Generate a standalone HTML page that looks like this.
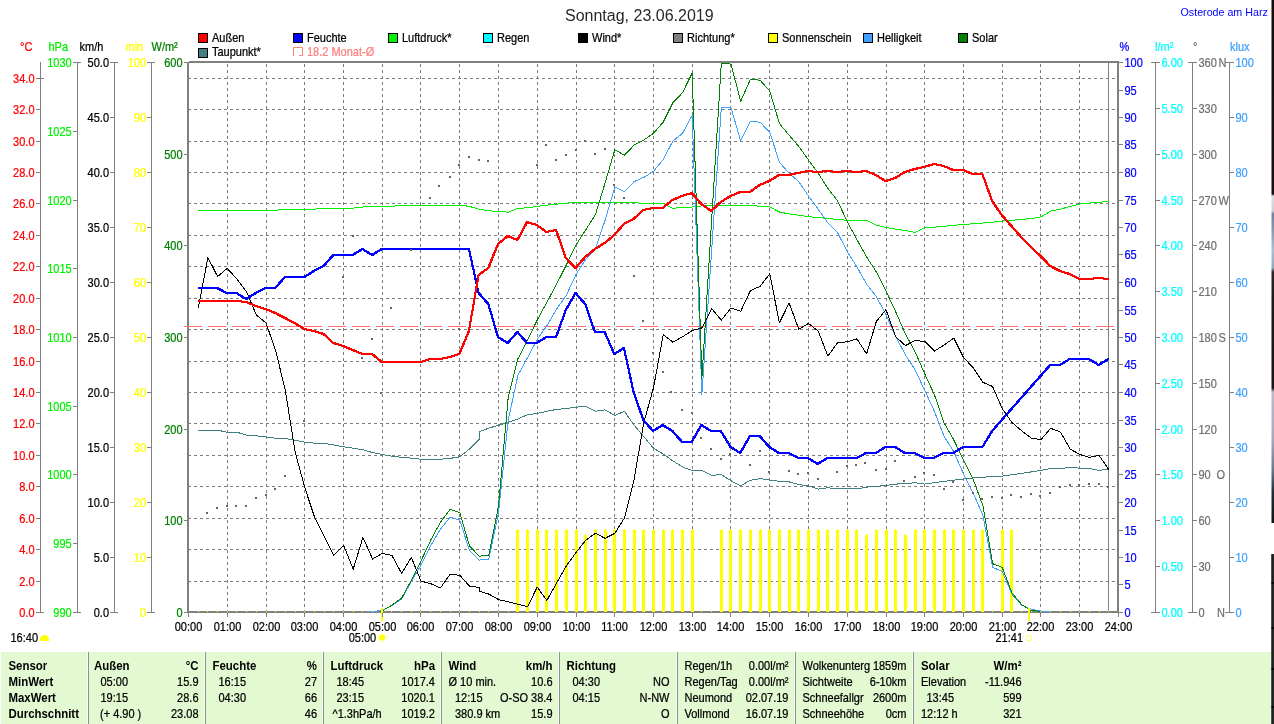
<!DOCTYPE html>
<html lang="de"><head><meta charset="utf-8"><title>Osterode am Harz - Sonntag, 23.06.2019</title>
<style>html,body{margin:0;padding:0;background:#fff;overflow:hidden}svg{display:block;font-family:"Liberation Sans", sans-serif;will-change:transform;opacity:.999}text{white-space:pre}</style></head><body>
<svg width="1274" height="724" viewBox="0 0 1274 724">
<rect x="0" y="0" width="1274" height="724" fill="#fff"/>
<text x="565" y="20.5" fill="#282828" font-size="16">Sonntag, 23.06.2019</text>
<text x="1180.5" y="16" fill="#0000ff" font-size="10.7">Osterode am Harz</text>
<rect x="198.5" y="33.5" width="9" height="9" fill="#ff0000" stroke="#000" stroke-width="1"/>
<text transform="translate(212 42) scale(0.88 1)" fill="#000" stroke="#000" stroke-width="0.25" font-size="12.5">Außen</text>
<rect x="293.5" y="33.5" width="9" height="9" fill="#0000ff" stroke="#000" stroke-width="1"/>
<text transform="translate(307 42) scale(0.88 1)" fill="#000" stroke="#000" stroke-width="0.25" font-size="12.5">Feuchte</text>
<rect x="388.5" y="33.5" width="9" height="9" fill="#00f000" stroke="#000" stroke-width="1"/>
<text transform="translate(402 42) scale(0.88 1)" fill="#000" stroke="#000" stroke-width="0.25" font-size="12.5">Luftdruck*</text>
<rect x="483.5" y="33.5" width="9" height="9" fill="#00ffff" stroke="#000" stroke-width="1"/>
<text transform="translate(497 42) scale(0.88 1)" fill="#000" stroke="#000" stroke-width="0.25" font-size="12.5">Regen</text>
<rect x="578.5" y="33.5" width="9" height="9" fill="#000000" stroke="#000" stroke-width="1"/>
<text transform="translate(592 42) scale(0.88 1)" fill="#000" stroke="#000" stroke-width="0.25" font-size="12.5">Wind*</text>
<rect x="673.5" y="33.5" width="9" height="9" fill="#808080" stroke="#000" stroke-width="1"/>
<text transform="translate(687 42) scale(0.88 1)" fill="#000" stroke="#000" stroke-width="0.25" font-size="12.5">Richtung*</text>
<rect x="768.5" y="33.5" width="9" height="9" fill="#ffff00" stroke="#000" stroke-width="1"/>
<text transform="translate(782 42) scale(0.88 1)" fill="#000" stroke="#000" stroke-width="0.25" font-size="12.5">Sonnenschein</text>
<rect x="863.5" y="33.5" width="9" height="9" fill="#40a0ff" stroke="#000" stroke-width="1"/>
<text transform="translate(877 42) scale(0.88 1)" fill="#000" stroke="#000" stroke-width="0.25" font-size="12.5">Helligkeit</text>
<rect x="958.5" y="33.5" width="9" height="9" fill="#008000" stroke="#000" stroke-width="1"/>
<text transform="translate(972 42) scale(0.88 1)" fill="#000" stroke="#000" stroke-width="0.25" font-size="12.5">Solar</text>
<rect x="198.5" y="48.5" width="9" height="9" fill="#408080" stroke="#000" stroke-width="1"/>
<text transform="translate(212 56) scale(0.88 1)" fill="#000" stroke="#000" stroke-width="0.25" font-size="12.5">Taupunkt*</text>
<path d="M293.5 56V47.5H302.5V55.5H299" fill="none" stroke="#ff8080" stroke-width="1"/>
<text transform="translate(307 56) scale(0.88 1)" fill="#ff8080" stroke="#ff8080" stroke-width="0.25" font-size="12.5">18.2 Monat-Ø</text>
<g stroke="#7c7c7c" stroke-width="1" stroke-dasharray="3 3" shape-rendering="crispEdges" fill="none">
<line x1="227.5" y1="64" x2="227.5" y2="611"/>
<line x1="266.5" y1="64" x2="266.5" y2="611"/>
<line x1="304.5" y1="64" x2="304.5" y2="611"/>
<line x1="343.5" y1="64" x2="343.5" y2="611"/>
<line x1="382.5" y1="64" x2="382.5" y2="611"/>
<line x1="420.5" y1="64" x2="420.5" y2="611"/>
<line x1="459.5" y1="64" x2="459.5" y2="611"/>
<line x1="498.5" y1="64" x2="498.5" y2="611"/>
<line x1="537.5" y1="64" x2="537.5" y2="611"/>
<line x1="576.5" y1="64" x2="576.5" y2="611"/>
<line x1="614.5" y1="64" x2="614.5" y2="611"/>
<line x1="653.5" y1="64" x2="653.5" y2="611"/>
<line x1="692.5" y1="64" x2="692.5" y2="611"/>
<line x1="730.5" y1="64" x2="730.5" y2="611"/>
<line x1="769.5" y1="64" x2="769.5" y2="611"/>
<line x1="808.5" y1="64" x2="808.5" y2="611"/>
<line x1="847.5" y1="64" x2="847.5" y2="611"/>
<line x1="886.5" y1="64" x2="886.5" y2="611"/>
<line x1="924.5" y1="64" x2="924.5" y2="611"/>
<line x1="963.5" y1="64" x2="963.5" y2="611"/>
<line x1="1002.5" y1="64" x2="1002.5" y2="611"/>
<line x1="1040.5" y1="64" x2="1040.5" y2="611"/>
<line x1="1079.5" y1="64" x2="1079.5" y2="611"/>
<line x1="188" y1="581.5" x2="1117" y2="581.5"/>
<line x1="188" y1="549.5" x2="1117" y2="549.5"/>
<line x1="188" y1="518.5" x2="1117" y2="518.5"/>
<line x1="188" y1="486.5" x2="1117" y2="486.5"/>
<line x1="188" y1="455.5" x2="1117" y2="455.5"/>
<line x1="188" y1="423.5" x2="1117" y2="423.5"/>
<line x1="188" y1="392.5" x2="1117" y2="392.5"/>
<line x1="188" y1="361.5" x2="1117" y2="361.5"/>
<line x1="188" y1="329.5" x2="1117" y2="329.5"/>
<line x1="188" y1="298.5" x2="1117" y2="298.5"/>
<line x1="188" y1="266.5" x2="1117" y2="266.5"/>
<line x1="188" y1="235.5" x2="1117" y2="235.5"/>
<line x1="188" y1="203.5" x2="1117" y2="203.5"/>
<line x1="188" y1="172.5" x2="1117" y2="172.5"/>
<line x1="188" y1="141.5" x2="1117" y2="141.5"/>
<line x1="188" y1="109.5" x2="1117" y2="109.5"/>
<line x1="188" y1="78.5" x2="1117" y2="78.5"/>
</g>
<rect x="1108" y="63" width="1" height="548" fill="#808080"/>
<rect x="189" y="61" width="930" height="2" fill="#808080"/>
<rect x="187" y="611" width="932" height="2" fill="#808080"/>
<rect x="187" y="62" width="2" height="551" fill="#808080"/>
<rect x="1117" y="61" width="2" height="552" fill="#808080"/>
<g fill="#ffff00">
<rect x="516" y="530" width="3" height="82"/><rect x="517" y="529" width="1" height="1"/>
<rect x="526" y="530" width="3" height="82"/><rect x="527" y="529" width="1" height="1"/>
<rect x="536" y="530" width="3" height="82"/><rect x="537" y="529" width="1" height="1"/>
<rect x="545" y="530" width="3" height="82"/><rect x="546" y="529" width="1" height="1"/>
<rect x="555" y="530" width="3" height="82"/><rect x="556" y="529" width="1" height="1"/>
<rect x="565" y="530" width="3" height="82"/><rect x="566" y="529" width="1" height="1"/>
<rect x="575" y="530" width="3" height="82"/><rect x="576" y="529" width="1" height="1"/>
<rect x="584" y="535" width="3" height="77"/><rect x="585" y="534" width="1" height="1"/>
<rect x="594" y="530" width="3" height="82"/><rect x="595" y="529" width="1" height="1"/>
<rect x="604" y="530" width="3" height="82"/><rect x="605" y="529" width="1" height="1"/>
<rect x="613" y="530" width="3" height="82"/><rect x="614" y="529" width="1" height="1"/>
<rect x="623" y="530" width="3" height="82"/><rect x="624" y="529" width="1" height="1"/>
<rect x="633" y="530" width="3" height="82"/><rect x="634" y="529" width="1" height="1"/>
<rect x="642" y="530" width="3" height="82"/><rect x="643" y="529" width="1" height="1"/>
<rect x="652" y="530" width="3" height="82"/><rect x="653" y="529" width="1" height="1"/>
<rect x="662" y="530" width="3" height="82"/><rect x="663" y="529" width="1" height="1"/>
<rect x="671" y="530" width="3" height="82"/><rect x="672" y="529" width="1" height="1"/>
<rect x="681" y="530" width="3" height="82"/><rect x="682" y="529" width="1" height="1"/>
<rect x="691" y="530" width="3" height="82"/><rect x="692" y="529" width="1" height="1"/>
<rect x="720" y="530" width="3" height="82"/><rect x="721" y="529" width="1" height="1"/>
<rect x="729" y="530" width="3" height="82"/><rect x="730" y="529" width="1" height="1"/>
<rect x="739" y="530" width="3" height="82"/><rect x="740" y="529" width="1" height="1"/>
<rect x="749" y="530" width="3" height="82"/><rect x="750" y="529" width="1" height="1"/>
<rect x="759" y="530" width="3" height="82"/><rect x="760" y="529" width="1" height="1"/>
<rect x="768" y="530" width="3" height="82"/><rect x="769" y="529" width="1" height="1"/>
<rect x="778" y="530" width="3" height="82"/><rect x="779" y="529" width="1" height="1"/>
<rect x="788" y="530" width="3" height="82"/><rect x="789" y="529" width="1" height="1"/>
<rect x="797" y="530" width="3" height="82"/><rect x="798" y="529" width="1" height="1"/>
<rect x="807" y="530" width="3" height="82"/><rect x="808" y="529" width="1" height="1"/>
<rect x="817" y="530" width="3" height="82"/><rect x="818" y="529" width="1" height="1"/>
<rect x="826" y="530" width="3" height="82"/><rect x="827" y="529" width="1" height="1"/>
<rect x="836" y="530" width="3" height="82"/><rect x="837" y="529" width="1" height="1"/>
<rect x="846" y="530" width="3" height="82"/><rect x="847" y="529" width="1" height="1"/>
<rect x="855" y="530" width="3" height="82"/><rect x="856" y="529" width="1" height="1"/>
<rect x="865" y="535" width="3" height="77"/><rect x="866" y="534" width="1" height="1"/>
<rect x="875" y="530" width="3" height="82"/><rect x="876" y="529" width="1" height="1"/>
<rect x="885" y="530" width="3" height="82"/><rect x="886" y="529" width="1" height="1"/>
<rect x="894" y="530" width="3" height="82"/><rect x="895" y="529" width="1" height="1"/>
<rect x="904" y="535" width="3" height="77"/><rect x="905" y="534" width="1" height="1"/>
<rect x="914" y="530" width="3" height="82"/><rect x="915" y="529" width="1" height="1"/>
<rect x="923" y="530" width="3" height="82"/><rect x="924" y="529" width="1" height="1"/>
<rect x="933" y="530" width="3" height="82"/><rect x="934" y="529" width="1" height="1"/>
<rect x="943" y="530" width="3" height="82"/><rect x="944" y="529" width="1" height="1"/>
<rect x="952" y="530" width="3" height="82"/><rect x="953" y="529" width="1" height="1"/>
<rect x="962" y="530" width="3" height="82"/><rect x="963" y="529" width="1" height="1"/>
<rect x="972" y="530" width="3" height="82"/><rect x="973" y="529" width="1" height="1"/>
<rect x="981" y="530" width="3" height="82"/><rect x="982" y="529" width="1" height="1"/>
<rect x="1001" y="530" width="3" height="82"/><rect x="1002" y="529" width="1" height="1"/>
<rect x="1010" y="530" width="3" height="82"/><rect x="1011" y="529" width="1" height="1"/>
</g>
<line x1="184" y1="326.5" x2="1114" y2="326.5" stroke="#ff7070" stroke-width="1" stroke-dasharray="18 6" shape-rendering="crispEdges"/>
<polyline points="198.2,210.3 207.9,210.3 217.6,210.3 227.2,210.3 236.9,210.3 246.6,210.3 256.3,210.3 266,210.3 275.7,210.3 285.4,209.2 295.1,209.2 304.8,209.2 314.4,209.2 324.1,208.1 333.8,208.1 343.5,208.1 353.2,208.1 362.9,207 372.6,206.4 382.2,206.4 391.9,206.4 401.6,205.1 411.3,205.1 421,205.1 430.7,205.1 440.4,205.1 450.1,205.1 459.8,205.1 469.4,206.4 479.1,209.2 488.8,210.8 498.5,211.5 508.2,212.2 517.9,208.4 527.6,207.8 537.2,206.4 546.9,205.1 556.6,204.2 566.3,203.1 576,202.6 585.7,202.6 595.4,202.6 605.1,202.6 614.8,202.6 624.4,202.6 634.1,202.6 643.8,203.7 653.5,203.7 663.2,203.7 672.9,208.4 682.6,207 692.2,207 701.9,205.9 711.6,205.6 721.3,205.1 731,205.1 740.7,205.1 750.4,205.1 760.1,206.4 769.8,207 779.4,212 789.1,213.9 798.8,215.3 808.5,216.7 818.2,217.5 827.9,218.6 837.6,219.4 847.2,220.3 856.9,220.3 866.6,220.3 876.3,225.2 886,227.4 895.7,229.1 905.4,230.5 915.1,232.4 924.8,227.7 934.4,227.2 944.1,226.3 953.8,225.2 963.5,224.7 973.2,223.6 982.9,223 992.6,222.2 1002.2,221.1 1011.9,220.3 1021.6,219.4 1031.3,218.6 1041,216.9 1050.7,211.1 1060.4,209.2 1070.1,206.4 1079.8,204 1089.4,203.1 1099.1,202.3 1108.8,201.2" fill="none" stroke="#00f000" stroke-width="1" stroke-linejoin="round" shape-rendering="crispEdges"/>
<polyline points="198.2,430.2 207.9,430.2 217.6,430.2 227.2,432.2 236.9,432.2 246.6,435.2 256.3,435.8 266,436.9 275.7,438.2 285.4,438.5 295.1,440.2 304.8,442.1 314.4,443.2 324.1,443.5 333.8,444.9 343.5,446.8 353.2,448.2 362.9,449.8 372.6,452.6 382.2,454.5 391.9,456.2 401.6,457.3 411.3,458.1 421,459.2 430.7,459.5 440.4,459.2 450.1,458.4 459.8,456.8 469.4,449 479.1,439.3 479.9,431.6 488.8,428.1 498.5,425.3 508.2,422.4 517.9,419 527.6,414.6 537.2,413.5 546.9,411.3 556.6,409.4 566.3,408.6 576,407.2 585.7,406.3 595.4,411.3 605.1,409.9 614.8,415.5 624.4,411.3 634.1,425.1 643.8,436.7 653.5,448.2 663.2,454 672.9,460.9 682.6,467 692.2,470.6 701.9,470.6 711.6,475.3 721.3,474.7 731,480.8 740.7,485.8 750.4,480.2 760.1,478.6 769.8,480.2 779.4,481.3 789.1,481.9 798.8,484.4 808.5,486 818.2,489.1 827.9,487.7 837.6,489 847.2,488.5 856.9,489 866.6,487.1 876.3,486.3 886,485.5 895.7,484.1 905.4,483.6 915.1,482.7 924.8,484.1 934.4,482.7 944.1,481.3 953.8,480.2 963.5,478.9 973.2,478 982.9,477.2 992.6,476.6 1002.2,476.1 1011.9,474.7 1021.6,473.3 1031.3,471.9 1041,470.3 1050.7,468.6 1060.4,468.4 1070.1,467.5 1079.8,468.1 1089.4,468.6 1099.1,470.3 1108.8,469.2" fill="none" stroke="#408080" stroke-width="1" stroke-linejoin="round" shape-rendering="crispEdges"/>
<polyline points="367,611.5 377.4,611.5 377.6,610.5 382.2,610.5 391.9,605.7 401.6,599 411.3,581.6 421,565 430.7,545.7 440.4,529.1 450.1,517.3 459.8,520 469.4,550.4 479.1,560.1 488.8,559 498.5,513 508.2,420 517.9,375.4 527.6,357.4 537.2,339.5 546.9,325.7 556.6,309.1 566.3,295.3 576,274.5 585.7,259.3 595.4,248.8 605.1,220.3 614.8,187.1 624.4,191.5 634.1,181.6 643.8,177.4 653.5,171.4 663.2,159.5 672.9,141 682.6,133.2 692.2,115.3 701.9,394.2 721.3,107.8 731,107.8 740.7,141 750.4,121.3 760.1,122.2 769.8,132.4 779.4,162.2 789.1,173.3 798.8,181.6 808.5,196 818.2,209.2 827.9,223 837.6,232.7 847.2,251.5 856.9,266.8 866.6,284.2 876.3,296.6 886,314.6 895.7,336.7 905.4,354.7 915.1,369.9 924.8,390.6 934.4,411.3 944.1,436.4 953.8,451.8 963.5,473.9 973.2,493.2 982.9,515.3 992.6,567.3 1002.2,571.4 1011.9,594.1 1021.6,605.1 1031.3,609.3 1041,611.2 1050.7,611.4" fill="none" stroke="#40a0ff" stroke-width="1" stroke-linejoin="round" shape-rendering="crispEdges"/>
<polyline points="382.2,610.9 391.9,605.1 401.6,598.2 411.3,580.3 421,560.9 430.7,540.2 440.4,522.2 450.1,509.3 459.8,512.6 469.4,545.7 479.1,556.2 488.8,555.4 498.5,506 508.2,397.5 517.9,358.8 527.6,340 537.2,320.1 546.9,302.2 556.6,284.2 566.3,264.9 576,245 585.7,229.9 595.4,214.7 605.1,183 614.8,149.8 624.4,155.3 634.1,145.1 643.8,140.1 653.5,133.2 663.2,122.2 672.9,102.8 682.6,92.6 692.2,73 701.9,378.2 721.3,63.3 731,64.1 740.7,101.4 750.4,79.3 760.1,80.2 769.8,91.2 779.4,123.6 789.1,135.2 798.8,146.5 808.5,160 818.2,173.3 827.9,188.5 837.6,200.9 847.2,221.6 856.9,239.6 866.6,257 876.3,271.8 886,291.1 895.7,311.8 905.4,333.9 915.1,351.9 924.8,374 934.4,394.7 944.1,422.9 953.8,440 963.5,460 973.2,479.4 982.9,505.7 992.6,563.7 1002.2,567.3 1011.9,592.7 1021.6,604.6 1031.3,610.7 1041,611.2" fill="none" stroke="#008000" stroke-width="1" stroke-linejoin="round" shape-rendering="crispEdges"/>
<polyline points="198.2,308.4 207.9,257.6 217.6,276.5 227.2,268.4 236.9,279 246.6,292 256.3,314.9 266,323 275.7,350.6 285.4,390.8 295.1,451.8 304.8,487.7 314.4,516.7 324.1,536 333.8,555.4 343.5,545.2 353.2,569.2 362.9,537.4 372.6,559 382.2,553.5 391.9,555.4 401.6,573.4 411.3,557.3 421,581.1 430.7,583.6 440.4,588 450.1,574.2 459.8,575.3 469.4,586.1 479.1,587.4 479.9,591.3 488.8,594.1 498.5,599.6 508.2,601.8 517.9,604.3 527.6,606.5 537.2,587.2 546.9,600.4 556.6,583 566.3,565.9 576,552.6 585.7,540.2 595.4,533.3 605.1,538.3 614.8,533.3 624.4,518.1 634.1,479.4 643.8,422.6 653.5,387.8 663.2,334.8 672.9,342.2 682.6,336.7 692.2,330.6 701.9,327.9 711.6,308.5 721.3,320.1 731,308 740.7,311.3 750.4,290.6 760.1,286.4 769.8,273.7 779.4,322.9 789.1,303 798.8,329.3 808.5,323.4 818.2,331.2 827.9,356 837.6,342.8 847.2,341.7 856.9,338.9 866.6,353.8 876.3,321.5 886,309.6 895.7,336.7 905.4,345.6 915.1,340.6 924.8,341.4 934.4,351.1 944.1,345 953.8,338.1 963.5,357.4 973.2,367.9 982.9,382.3 992.6,386.5 1002.2,408.6 1011.9,422.4 1021.6,430.7 1031.3,438.2 1041,439.5 1050.7,428.3 1060.4,432 1070.1,449 1079.8,454.5 1089.4,457.3 1099.1,455.4 1108.8,469.7" fill="none" stroke="#000000" stroke-width="1" stroke-linejoin="round" shape-rendering="crispEdges"/>
<g stroke="#0000ff" stroke-width="1" fill="none" shape-rendering="crispEdges">
<polyline points="199.2,287.5 207.9,287.5 217.6,287.5 227.2,292.5 236.9,292.5 246.6,298.5 256.3,292.5 266,287.5 275.7,287.5 285.4,276.5 295.1,276.5 304.8,276.5 314.4,270.5 324.1,265.5 333.8,254.5 343.5,254.5 353.2,254.5 362.9,248.5 372.6,254.5 382.2,248.5 391.9,248.5 401.6,248.5 411.3,248.5 421,248.5 430.7,248.5 440.4,248.5 450.1,248.5 459.8,248.5 469.4,248.5 479.1,292.5 488.8,303.5 498.5,336.5 508.2,342.5 517.9,331.5 527.6,342.5 537.2,342.5 546.9,336.5 556.6,336.5 566.3,309.5 576,292.5 585.7,303.5 595.4,331.5 605.1,331.5 614.8,353.5 624.4,347.5 634.1,391.5 643.8,419.5 653.5,430.5 663.2,424.5 672.9,430.5 682.6,441.5 692.2,441.5 701.9,424.5 711.6,430.5 721.3,430.5 731,446.5 740.7,452.5 750.4,435.5 760.1,435.5 769.8,446.5 779.4,452.5 789.1,452.5 798.8,457.5 808.5,457.5 818.2,463.5 827.9,457.5 837.6,457.5 847.2,457.5 856.9,457.5 866.6,452.5 876.3,452.5 886,446.5 895.7,446.5 905.4,452.5 915.1,452.5 924.8,457.5 934.4,457.5 944.1,452.5 953.8,452.5 963.5,446.5 973.2,446.5 982.9,446.5 992.6,430.5 1002.2,419.5 1011.9,408.5 1021.6,397.5 1031.3,386.5 1041,375.5 1050.7,364.5 1060.4,364.5 1070.1,358.5 1079.8,358.5 1089.4,358.5 1099.1,364.5 1108.8,358.5"/>
<polyline points="198.2,287.5 206.9,287.5 216.6,287.5 226.2,292.5 235.9,292.5 245.6,298.5 255.3,292.5 265,287.5 274.7,287.5 284.4,276.5 294.1,276.5 303.8,276.5 313.4,270.5 323.1,265.5 332.8,254.5 342.5,254.5 352.2,254.5 361.9,248.5 371.6,254.5 381.2,248.5 390.9,248.5 400.6,248.5 410.3,248.5 420,248.5 429.7,248.5 439.4,248.5 449.1,248.5 458.8,248.5 468.4,248.5 478.1,292.5 487.8,303.5 497.5,336.5 507.2,342.5 516.9,331.5 526.6,342.5 536.2,342.5 545.9,336.5 555.6,336.5 565.3,309.5 575,292.5 584.7,303.5 594.4,331.5 604.1,331.5 613.8,353.5 623.4,347.5 633.1,391.5 642.8,419.5 652.5,430.5 662.2,424.5 671.9,430.5 681.6,441.5 691.2,441.5 700.9,424.5 710.6,430.5 720.3,430.5 730,446.5 739.7,452.5 749.4,435.5 759.1,435.5 768.8,446.5 778.4,452.5 788.1,452.5 797.8,457.5 807.5,457.5 817.2,463.5 826.9,457.5 836.6,457.5 846.2,457.5 855.9,457.5 865.6,452.5 875.3,452.5 885,446.5 894.7,446.5 904.4,452.5 914.1,452.5 923.8,457.5 933.4,457.5 943.1,452.5 952.8,452.5 962.5,446.5 972.2,446.5 981.9,446.5 991.6,430.5 1001.2,419.5 1010.9,408.5 1020.6,397.5 1030.3,386.5 1040,375.5 1049.7,364.5 1059.4,364.5 1069.1,358.5 1078.8,358.5 1088.4,358.5 1098.1,364.5 1107.8,358.5"/>
<polyline points="199.2,288.5 207.9,288.5 217.6,288.5 227.2,293.5 236.9,293.5 246.6,299.5 256.3,293.5 266,288.5 275.7,288.5 285.4,277.5 295.1,277.5 304.8,277.5 314.4,271.5 324.1,266.5 333.8,255.5 343.5,255.5 353.2,255.5 362.9,249.5 372.6,255.5 382.2,249.5 391.9,249.5 401.6,249.5 411.3,249.5 421,249.5 430.7,249.5 440.4,249.5 450.1,249.5 459.8,249.5 469.4,249.5 479.1,293.5 488.8,304.5 498.5,337.5 508.2,343.5 517.9,332.5 527.6,343.5 537.2,343.5 546.9,337.5 556.6,337.5 566.3,310.5 576,293.5 585.7,304.5 595.4,332.5 605.1,332.5 614.8,354.5 624.4,348.5 634.1,392.5 643.8,420.5 653.5,431.5 663.2,425.5 672.9,431.5 682.6,442.5 692.2,442.5 701.9,425.5 711.6,431.5 721.3,431.5 731,447.5 740.7,453.5 750.4,436.5 760.1,436.5 769.8,447.5 779.4,453.5 789.1,453.5 798.8,458.5 808.5,458.5 818.2,464.5 827.9,458.5 837.6,458.5 847.2,458.5 856.9,458.5 866.6,453.5 876.3,453.5 886,447.5 895.7,447.5 905.4,453.5 915.1,453.5 924.8,458.5 934.4,458.5 944.1,453.5 953.8,453.5 963.5,447.5 973.2,447.5 982.9,447.5 992.6,431.5 1002.2,420.5 1011.9,409.5 1021.6,398.5 1031.3,387.5 1041,376.5 1050.7,365.5 1060.4,365.5 1070.1,359.5 1079.8,359.5 1089.4,359.5 1099.1,365.5 1108.8,359.5"/>
<polyline points="198.2,288.5 206.9,288.5 216.6,288.5 226.2,293.5 235.9,293.5 245.6,299.5 255.3,293.5 265,288.5 274.7,288.5 284.4,277.5 294.1,277.5 303.8,277.5 313.4,271.5 323.1,266.5 332.8,255.5 342.5,255.5 352.2,255.5 361.9,249.5 371.6,255.5 381.2,249.5 390.9,249.5 400.6,249.5 410.3,249.5 420,249.5 429.7,249.5 439.4,249.5 449.1,249.5 458.8,249.5 468.4,249.5 478.1,293.5 487.8,304.5 497.5,337.5 507.2,343.5 516.9,332.5 526.6,343.5 536.2,343.5 545.9,337.5 555.6,337.5 565.3,310.5 575,293.5 584.7,304.5 594.4,332.5 604.1,332.5 613.8,354.5 623.4,348.5 633.1,392.5 642.8,420.5 652.5,431.5 662.2,425.5 671.9,431.5 681.6,442.5 691.2,442.5 700.9,425.5 710.6,431.5 720.3,431.5 730,447.5 739.7,453.5 749.4,436.5 759.1,436.5 768.8,447.5 778.4,453.5 788.1,453.5 797.8,458.5 807.5,458.5 817.2,464.5 826.9,458.5 836.6,458.5 846.2,458.5 855.9,458.5 865.6,453.5 875.3,453.5 885,447.5 894.7,447.5 904.4,453.5 914.1,453.5 923.8,458.5 933.4,458.5 943.1,453.5 952.8,453.5 962.5,447.5 972.2,447.5 981.9,447.5 991.6,431.5 1001.2,420.5 1010.9,409.5 1020.6,398.5 1030.3,387.5 1040,376.5 1049.7,365.5 1059.4,365.5 1069.1,359.5 1078.8,359.5 1088.4,359.5 1098.1,365.5 1107.8,359.5"/>
</g>
<g stroke="#ff0000" stroke-width="1" fill="none" shape-rendering="crispEdges">
<polyline points="199.2,300.5 207.9,300.5 217.6,300.5 227.2,300.5 236.9,300.5 246.6,301.5 256.3,305.5 266,308.5 275.7,312.5 285.4,317.5 295.1,322.5 304.8,328.5 314.4,330.5 324.1,333.5 333.8,342.5 343.5,345.5 353.2,349.5 362.9,353.5 372.6,353.5 382.2,361.5 391.9,361.5 401.6,361.5 411.3,361.5 421,361.5 430.7,358.5 440.4,358.5 450.1,356.5 459.8,353.5 469.4,330.5 479.1,274.5 488.8,267.5 498.5,243.5 508.2,235.5 517.9,239.5 527.6,221.5 537.2,224.5 546.9,231.5 556.6,229.5 566.3,257.5 576,267.5 585.7,256.5 595.4,248.5 605.1,242.5 614.8,234.5 624.4,223.5 634.1,218.5 643.8,209.5 653.5,207.5 663.2,207.5 672.9,199.5 682.6,195.5 692.2,192.5 701.9,203.5 711.6,210.5 721.3,201.5 731,195.5 740.7,191.5 750.4,191.5 760.1,184.5 769.8,180.5 779.4,174.5 789.1,174.5 798.8,172.5 808.5,170.5 818.2,171.5 827.9,170.5 837.6,171.5 847.2,170.5 856.9,171.5 866.6,170.5 876.3,174.5 886,180.5 895.7,177.5 905.4,171.5 915.1,168.5 924.8,166.5 934.4,163.5 944.1,165.5 953.8,169.5 963.5,169.5 973.2,173.5 982.9,173.5 992.6,200.5 1002.2,214.5 1011.9,225.5 1021.6,236.5 1031.3,246.5 1041,255.5 1050.7,265.5 1060.4,270.5 1070.1,273.5 1079.8,278.5 1089.4,278.5 1099.1,277.5 1108.8,278.5"/>
<polyline points="198.2,300.5 206.9,300.5 216.6,300.5 226.2,300.5 235.9,300.5 245.6,301.5 255.3,305.5 265,308.5 274.7,312.5 284.4,317.5 294.1,322.5 303.8,328.5 313.4,330.5 323.1,333.5 332.8,342.5 342.5,345.5 352.2,349.5 361.9,353.5 371.6,353.5 381.2,361.5 390.9,361.5 400.6,361.5 410.3,361.5 420,361.5 429.7,358.5 439.4,358.5 449.1,356.5 458.8,353.5 468.4,330.5 478.1,274.5 487.8,267.5 497.5,243.5 507.2,235.5 516.9,239.5 526.6,221.5 536.2,224.5 545.9,231.5 555.6,229.5 565.3,257.5 575,267.5 584.7,256.5 594.4,248.5 604.1,242.5 613.8,234.5 623.4,223.5 633.1,218.5 642.8,209.5 652.5,207.5 662.2,207.5 671.9,199.5 681.6,195.5 691.2,192.5 700.9,203.5 710.6,210.5 720.3,201.5 730,195.5 739.7,191.5 749.4,191.5 759.1,184.5 768.8,180.5 778.4,174.5 788.1,174.5 797.8,172.5 807.5,170.5 817.2,171.5 826.9,170.5 836.6,171.5 846.2,170.5 855.9,171.5 865.6,170.5 875.3,174.5 885,180.5 894.7,177.5 904.4,171.5 914.1,168.5 923.8,166.5 933.4,163.5 943.1,165.5 952.8,169.5 962.5,169.5 972.2,173.5 981.9,173.5 991.6,200.5 1001.2,214.5 1010.9,225.5 1020.6,236.5 1030.3,246.5 1040,255.5 1049.7,265.5 1059.4,270.5 1069.1,273.5 1078.8,278.5 1088.4,278.5 1098.1,277.5 1107.8,278.5"/>
<polyline points="199.2,301.5 207.9,301.5 217.6,301.5 227.2,301.5 236.9,301.5 246.6,302.5 256.3,306.5 266,309.5 275.7,313.5 285.4,318.5 295.1,323.5 304.8,329.5 314.4,331.5 324.1,334.5 333.8,343.5 343.5,346.5 353.2,350.5 362.9,354.5 372.6,354.5 382.2,362.5 391.9,362.5 401.6,362.5 411.3,362.5 421,362.5 430.7,359.5 440.4,359.5 450.1,357.5 459.8,354.5 469.4,331.5 479.1,275.5 488.8,268.5 498.5,244.5 508.2,236.5 517.9,240.5 527.6,222.5 537.2,225.5 546.9,232.5 556.6,230.5 566.3,258.5 576,268.5 585.7,257.5 595.4,249.5 605.1,243.5 614.8,235.5 624.4,224.5 634.1,219.5 643.8,210.5 653.5,208.5 663.2,208.5 672.9,200.5 682.6,196.5 692.2,193.5 701.9,204.5 711.6,211.5 721.3,202.5 731,196.5 740.7,192.5 750.4,192.5 760.1,185.5 769.8,181.5 779.4,175.5 789.1,175.5 798.8,173.5 808.5,171.5 818.2,172.5 827.9,171.5 837.6,172.5 847.2,171.5 856.9,172.5 866.6,171.5 876.3,175.5 886,181.5 895.7,178.5 905.4,172.5 915.1,169.5 924.8,167.5 934.4,164.5 944.1,166.5 953.8,170.5 963.5,170.5 973.2,174.5 982.9,174.5 992.6,201.5 1002.2,215.5 1011.9,226.5 1021.6,237.5 1031.3,247.5 1041,256.5 1050.7,266.5 1060.4,271.5 1070.1,274.5 1079.8,279.5 1089.4,279.5 1099.1,278.5 1108.8,279.5"/>
<polyline points="198.2,301.5 206.9,301.5 216.6,301.5 226.2,301.5 235.9,301.5 245.6,302.5 255.3,306.5 265,309.5 274.7,313.5 284.4,318.5 294.1,323.5 303.8,329.5 313.4,331.5 323.1,334.5 332.8,343.5 342.5,346.5 352.2,350.5 361.9,354.5 371.6,354.5 381.2,362.5 390.9,362.5 400.6,362.5 410.3,362.5 420,362.5 429.7,359.5 439.4,359.5 449.1,357.5 458.8,354.5 468.4,331.5 478.1,275.5 487.8,268.5 497.5,244.5 507.2,236.5 516.9,240.5 526.6,222.5 536.2,225.5 545.9,232.5 555.6,230.5 565.3,258.5 575,268.5 584.7,257.5 594.4,249.5 604.1,243.5 613.8,235.5 623.4,224.5 633.1,219.5 642.8,210.5 652.5,208.5 662.2,208.5 671.9,200.5 681.6,196.5 691.2,193.5 700.9,204.5 710.6,211.5 720.3,202.5 730,196.5 739.7,192.5 749.4,192.5 759.1,185.5 768.8,181.5 778.4,175.5 788.1,175.5 797.8,173.5 807.5,171.5 817.2,172.5 826.9,171.5 836.6,172.5 846.2,171.5 855.9,172.5 865.6,171.5 875.3,175.5 885,181.5 894.7,178.5 904.4,172.5 914.1,169.5 923.8,167.5 933.4,164.5 943.1,166.5 952.8,170.5 962.5,170.5 972.2,174.5 981.9,174.5 991.6,201.5 1001.2,215.5 1010.9,226.5 1020.6,237.5 1030.3,247.5 1040,256.5 1049.7,266.5 1059.4,271.5 1069.1,274.5 1078.8,279.5 1088.4,279.5 1098.1,278.5 1107.8,279.5"/>
</g>
<g fill="#666">
<rect x="206" y="512" width="2" height="2"/>
<rect x="216" y="507" width="2" height="2"/>
<rect x="226" y="505" width="2" height="2"/>
<rect x="235" y="505" width="2" height="2"/>
<rect x="245" y="505" width="2" height="2"/>
<rect x="255" y="497" width="2" height="2"/>
<rect x="265" y="494" width="2" height="2"/>
<rect x="274" y="488" width="2" height="2"/>
<rect x="284" y="475" width="2" height="2"/>
<rect x="303" y="420" width="2" height="2"/>
<rect x="342" y="276" width="2" height="2"/>
<rect x="390" y="307" width="2" height="2"/>
<rect x="371" y="338" width="2" height="2"/>
<rect x="361" y="357" width="2" height="2"/>
<rect x="410" y="249" width="2" height="2"/>
<rect x="458" y="328" width="2" height="2"/>
<rect x="380" y="392" width="2" height="2"/>
<rect x="352" y="235" width="2" height="2"/>
<rect x="429" y="197" width="2" height="2"/>
<rect x="438" y="185" width="2" height="2"/>
<rect x="449" y="176" width="2" height="2"/>
<rect x="458" y="164" width="2" height="2"/>
<rect x="468" y="156" width="2" height="2"/>
<rect x="478" y="159" width="2" height="2"/>
<rect x="487" y="160" width="2" height="2"/>
<rect x="545" y="144" width="2" height="2"/>
<rect x="555" y="159" width="2" height="2"/>
<rect x="565" y="154" width="2" height="2"/>
<rect x="575" y="149" width="2" height="2"/>
<rect x="584" y="140" width="2" height="2"/>
<rect x="594" y="153" width="2" height="2"/>
<rect x="604" y="148" width="2" height="2"/>
<rect x="536" y="164" width="2" height="2"/>
<rect x="613" y="184" width="2" height="2"/>
<rect x="623" y="197" width="2" height="2"/>
<rect x="633" y="275" width="2" height="2"/>
<rect x="642" y="320" width="2" height="2"/>
<rect x="662" y="371" width="2" height="2"/>
<rect x="670" y="391" width="2" height="2"/>
<rect x="681" y="409" width="2" height="2"/>
<rect x="691" y="412" width="2" height="2"/>
<rect x="652" y="352" width="2" height="2"/>
<rect x="700" y="437" width="2" height="2"/>
<rect x="710" y="448" width="2" height="2"/>
<rect x="720" y="458" width="2" height="2"/>
<rect x="729" y="453" width="2" height="2"/>
<rect x="749" y="464" width="2" height="2"/>
<rect x="759" y="450" width="2" height="2"/>
<rect x="768" y="471" width="2" height="2"/>
<rect x="788" y="470" width="2" height="2"/>
<rect x="797" y="473" width="2" height="2"/>
<rect x="807" y="472" width="2" height="2"/>
<rect x="807" y="472" width="2" height="2"/>
<rect x="817" y="478" width="2" height="2"/>
<rect x="836" y="471" width="2" height="2"/>
<rect x="846" y="465" width="2" height="2"/>
<rect x="855" y="464" width="2" height="2"/>
<rect x="864" y="462" width="2" height="2"/>
<rect x="875" y="469" width="2" height="2"/>
<rect x="885" y="468" width="2" height="2"/>
<rect x="894" y="460" width="2" height="2"/>
<rect x="903" y="480" width="2" height="2"/>
<rect x="914" y="476" width="2" height="2"/>
<rect x="923" y="472" width="2" height="2"/>
<rect x="933" y="474" width="2" height="2"/>
<rect x="943" y="488" width="2" height="2"/>
<rect x="952" y="481" width="2" height="2"/>
<rect x="962" y="499" width="2" height="2"/>
<rect x="972" y="492" width="2" height="2"/>
<rect x="981" y="498" width="2" height="2"/>
<rect x="991" y="496" width="2" height="2"/>
<rect x="1001" y="497" width="2" height="2"/>
<rect x="1010" y="494" width="2" height="2"/>
<rect x="1020" y="496" width="2" height="2"/>
<rect x="1030" y="493" width="2" height="2"/>
<rect x="1039" y="495" width="2" height="2"/>
<rect x="1049" y="492" width="2" height="2"/>
<rect x="1059" y="486" width="2" height="2"/>
<rect x="1069" y="484" width="2" height="2"/>
<rect x="1078" y="484" width="2" height="2"/>
<rect x="1088" y="483" width="2" height="2"/>
<rect x="1098" y="483" width="2" height="2"/>
<rect x="1107" y="486" width="2" height="2"/>
</g>
<g fill="#ffff00">
<rect x="198" y="611" width="1" height="1"/>
<rect x="207" y="611" width="1" height="1"/>
<rect x="217" y="611" width="1" height="1"/>
<rect x="227" y="611" width="1" height="1"/>
<rect x="236" y="611" width="1" height="1"/>
<rect x="246" y="611" width="1" height="1"/>
<rect x="256" y="611" width="1" height="1"/>
<rect x="266" y="611" width="1" height="1"/>
<rect x="275" y="611" width="1" height="1"/>
<rect x="285" y="611" width="1" height="1"/>
<rect x="295" y="611" width="1" height="1"/>
<rect x="304" y="611" width="1" height="1"/>
<rect x="314" y="611" width="1" height="1"/>
<rect x="324" y="611" width="1" height="1"/>
<rect x="333" y="611" width="1" height="1"/>
<rect x="343" y="611" width="1" height="1"/>
<rect x="353" y="611" width="1" height="1"/>
<rect x="362" y="611" width="1" height="1"/>
<rect x="372" y="611" width="1" height="1"/>
<rect x="382" y="611" width="1" height="1"/>
<rect x="391" y="611" width="1" height="1"/>
<rect x="401" y="611" width="1" height="1"/>
<rect x="411" y="611" width="1" height="1"/>
<rect x="420" y="611" width="1" height="1"/>
<rect x="430" y="611" width="1" height="1"/>
<rect x="440" y="611" width="1" height="1"/>
<rect x="450" y="611" width="1" height="1"/>
<rect x="459" y="611" width="1" height="1"/>
<rect x="469" y="611" width="1" height="1"/>
<rect x="479" y="611" width="1" height="1"/>
<rect x="488" y="611" width="1" height="1"/>
<rect x="498" y="611" width="1" height="1"/>
<rect x="508" y="611" width="1" height="1"/>
<rect x="701" y="611" width="1" height="1"/>
<rect x="711" y="611" width="1" height="1"/>
<rect x="992" y="611" width="1" height="1"/>
<rect x="1021" y="611" width="1" height="1"/>
<rect x="1031" y="611" width="1" height="1"/>
<rect x="1040" y="611" width="1" height="1"/>
<rect x="1050" y="611" width="1" height="1"/>
<rect x="1060" y="611" width="1" height="1"/>
<rect x="1070" y="611" width="1" height="1"/>
<rect x="1079" y="611" width="1" height="1"/>
<rect x="1089" y="611" width="1" height="1"/>
<rect x="1099" y="611" width="1" height="1"/>
<rect x="1108" y="611" width="1" height="1"/>
</g>
<rect x="381" y="608" width="2" height="13" fill="#ffff00"/>
<rect x="1028" y="608" width="2" height="13" fill="#ffff00"/>
<rect x="188" y="613" width="1" height="4" fill="#808080"/>
<text transform="translate(188.5 631) scale(0.88 1)" fill="#000" stroke="#000" stroke-width="0.25" font-size="12.5" text-anchor="middle">00:00</text>
<rect x="227" y="613" width="1" height="4" fill="#808080"/>
<text transform="translate(227.5 631) scale(0.88 1)" fill="#000" stroke="#000" stroke-width="0.25" font-size="12.5" text-anchor="middle">01:00</text>
<rect x="266" y="613" width="1" height="4" fill="#808080"/>
<text transform="translate(266.5 631) scale(0.88 1)" fill="#000" stroke="#000" stroke-width="0.25" font-size="12.5" text-anchor="middle">02:00</text>
<rect x="304" y="613" width="1" height="4" fill="#808080"/>
<text transform="translate(304.5 631) scale(0.88 1)" fill="#000" stroke="#000" stroke-width="0.25" font-size="12.5" text-anchor="middle">03:00</text>
<rect x="343" y="613" width="1" height="4" fill="#808080"/>
<text transform="translate(343.5 631) scale(0.88 1)" fill="#000" stroke="#000" stroke-width="0.25" font-size="12.5" text-anchor="middle">04:00</text>
<rect x="382" y="613" width="1" height="4" fill="#808080"/>
<text transform="translate(382.5 631) scale(0.88 1)" fill="#000" stroke="#000" stroke-width="0.25" font-size="12.5" text-anchor="middle">05:00</text>
<rect x="420" y="613" width="1" height="4" fill="#808080"/>
<text transform="translate(420.5 631) scale(0.88 1)" fill="#000" stroke="#000" stroke-width="0.25" font-size="12.5" text-anchor="middle">06:00</text>
<rect x="459" y="613" width="1" height="4" fill="#808080"/>
<text transform="translate(459.5 631) scale(0.88 1)" fill="#000" stroke="#000" stroke-width="0.25" font-size="12.5" text-anchor="middle">07:00</text>
<rect x="498" y="613" width="1" height="4" fill="#808080"/>
<text transform="translate(498.5 631) scale(0.88 1)" fill="#000" stroke="#000" stroke-width="0.25" font-size="12.5" text-anchor="middle">08:00</text>
<rect x="537" y="613" width="1" height="4" fill="#808080"/>
<text transform="translate(537.5 631) scale(0.88 1)" fill="#000" stroke="#000" stroke-width="0.25" font-size="12.5" text-anchor="middle">09:00</text>
<rect x="576" y="613" width="1" height="4" fill="#808080"/>
<text transform="translate(576.5 631) scale(0.88 1)" fill="#000" stroke="#000" stroke-width="0.25" font-size="12.5" text-anchor="middle">10:00</text>
<rect x="614" y="613" width="1" height="4" fill="#808080"/>
<text transform="translate(614.5 631) scale(0.88 1)" fill="#000" stroke="#000" stroke-width="0.25" font-size="12.5" text-anchor="middle">11:00</text>
<rect x="653" y="613" width="1" height="4" fill="#808080"/>
<text transform="translate(653.5 631) scale(0.88 1)" fill="#000" stroke="#000" stroke-width="0.25" font-size="12.5" text-anchor="middle">12:00</text>
<rect x="692" y="613" width="1" height="4" fill="#808080"/>
<text transform="translate(692.5 631) scale(0.88 1)" fill="#000" stroke="#000" stroke-width="0.25" font-size="12.5" text-anchor="middle">13:00</text>
<rect x="730" y="613" width="1" height="4" fill="#808080"/>
<text transform="translate(730.5 631) scale(0.88 1)" fill="#000" stroke="#000" stroke-width="0.25" font-size="12.5" text-anchor="middle">14:00</text>
<rect x="769" y="613" width="1" height="4" fill="#808080"/>
<text transform="translate(769.5 631) scale(0.88 1)" fill="#000" stroke="#000" stroke-width="0.25" font-size="12.5" text-anchor="middle">15:00</text>
<rect x="808" y="613" width="1" height="4" fill="#808080"/>
<text transform="translate(808.5 631) scale(0.88 1)" fill="#000" stroke="#000" stroke-width="0.25" font-size="12.5" text-anchor="middle">16:00</text>
<rect x="847" y="613" width="1" height="4" fill="#808080"/>
<text transform="translate(847.5 631) scale(0.88 1)" fill="#000" stroke="#000" stroke-width="0.25" font-size="12.5" text-anchor="middle">17:00</text>
<rect x="886" y="613" width="1" height="4" fill="#808080"/>
<text transform="translate(886.5 631) scale(0.88 1)" fill="#000" stroke="#000" stroke-width="0.25" font-size="12.5" text-anchor="middle">18:00</text>
<rect x="924" y="613" width="1" height="4" fill="#808080"/>
<text transform="translate(924.5 631) scale(0.88 1)" fill="#000" stroke="#000" stroke-width="0.25" font-size="12.5" text-anchor="middle">19:00</text>
<rect x="963" y="613" width="1" height="4" fill="#808080"/>
<text transform="translate(963.5 631) scale(0.88 1)" fill="#000" stroke="#000" stroke-width="0.25" font-size="12.5" text-anchor="middle">20:00</text>
<rect x="1002" y="613" width="1" height="4" fill="#808080"/>
<text transform="translate(1002.5 631) scale(0.88 1)" fill="#000" stroke="#000" stroke-width="0.25" font-size="12.5" text-anchor="middle">21:00</text>
<rect x="1040" y="613" width="1" height="4" fill="#808080"/>
<text transform="translate(1040.5 631) scale(0.88 1)" fill="#000" stroke="#000" stroke-width="0.25" font-size="12.5" text-anchor="middle">22:00</text>
<rect x="1079" y="613" width="1" height="4" fill="#808080"/>
<text transform="translate(1079.5 631) scale(0.88 1)" fill="#000" stroke="#000" stroke-width="0.25" font-size="12.5" text-anchor="middle">23:00</text>
<rect x="1118" y="613" width="1" height="4" fill="#808080"/>
<text transform="translate(1118.5 631) scale(0.88 1)" fill="#000" stroke="#000" stroke-width="0.25" font-size="12.5" text-anchor="middle">24:00</text>
<rect x="40" y="62" width="1" height="551" fill="#808080"/>
<rect x="36" y="612" width="4" height="1" fill="#808080"/>
<text transform="translate(34.5 616.5) scale(0.88 1)" fill="#ff0000" stroke="#ff0000" stroke-width="0.25" font-size="12.5" text-anchor="end">0.0</text>
<rect x="36" y="581" width="4" height="1" fill="#808080"/>
<text transform="translate(34.5 585.5) scale(0.88 1)" fill="#ff0000" stroke="#ff0000" stroke-width="0.25" font-size="12.5" text-anchor="end">2.0</text>
<rect x="36" y="549" width="4" height="1" fill="#808080"/>
<text transform="translate(34.5 553.5) scale(0.88 1)" fill="#ff0000" stroke="#ff0000" stroke-width="0.25" font-size="12.5" text-anchor="end">4.0</text>
<rect x="36" y="518" width="4" height="1" fill="#808080"/>
<text transform="translate(34.5 522.5) scale(0.88 1)" fill="#ff0000" stroke="#ff0000" stroke-width="0.25" font-size="12.5" text-anchor="end">6.0</text>
<rect x="36" y="486" width="4" height="1" fill="#808080"/>
<text transform="translate(34.5 490.5) scale(0.88 1)" fill="#ff0000" stroke="#ff0000" stroke-width="0.25" font-size="12.5" text-anchor="end">8.0</text>
<rect x="36" y="455" width="4" height="1" fill="#808080"/>
<text transform="translate(34.5 459.5) scale(0.88 1)" fill="#ff0000" stroke="#ff0000" stroke-width="0.25" font-size="12.5" text-anchor="end">10.0</text>
<rect x="36" y="423" width="4" height="1" fill="#808080"/>
<text transform="translate(34.5 427.5) scale(0.88 1)" fill="#ff0000" stroke="#ff0000" stroke-width="0.25" font-size="12.5" text-anchor="end">12.0</text>
<rect x="36" y="392" width="4" height="1" fill="#808080"/>
<text transform="translate(34.5 396.5) scale(0.88 1)" fill="#ff0000" stroke="#ff0000" stroke-width="0.25" font-size="12.5" text-anchor="end">14.0</text>
<rect x="36" y="361" width="4" height="1" fill="#808080"/>
<text transform="translate(34.5 365.5) scale(0.88 1)" fill="#ff0000" stroke="#ff0000" stroke-width="0.25" font-size="12.5" text-anchor="end">16.0</text>
<rect x="36" y="329" width="4" height="1" fill="#808080"/>
<text transform="translate(34.5 333.5) scale(0.88 1)" fill="#ff0000" stroke="#ff0000" stroke-width="0.25" font-size="12.5" text-anchor="end">18.0</text>
<rect x="36" y="298" width="4" height="1" fill="#808080"/>
<text transform="translate(34.5 302.5) scale(0.88 1)" fill="#ff0000" stroke="#ff0000" stroke-width="0.25" font-size="12.5" text-anchor="end">20.0</text>
<rect x="36" y="266" width="4" height="1" fill="#808080"/>
<text transform="translate(34.5 270.5) scale(0.88 1)" fill="#ff0000" stroke="#ff0000" stroke-width="0.25" font-size="12.5" text-anchor="end">22.0</text>
<rect x="36" y="235" width="4" height="1" fill="#808080"/>
<text transform="translate(34.5 239.5) scale(0.88 1)" fill="#ff0000" stroke="#ff0000" stroke-width="0.25" font-size="12.5" text-anchor="end">24.0</text>
<rect x="36" y="203" width="4" height="1" fill="#808080"/>
<text transform="translate(34.5 207.5) scale(0.88 1)" fill="#ff0000" stroke="#ff0000" stroke-width="0.25" font-size="12.5" text-anchor="end">26.0</text>
<rect x="36" y="172" width="4" height="1" fill="#808080"/>
<text transform="translate(34.5 176.5) scale(0.88 1)" fill="#ff0000" stroke="#ff0000" stroke-width="0.25" font-size="12.5" text-anchor="end">28.0</text>
<rect x="36" y="141" width="4" height="1" fill="#808080"/>
<text transform="translate(34.5 145.5) scale(0.88 1)" fill="#ff0000" stroke="#ff0000" stroke-width="0.25" font-size="12.5" text-anchor="end">30.0</text>
<rect x="36" y="109" width="4" height="1" fill="#808080"/>
<text transform="translate(34.5 113.5) scale(0.88 1)" fill="#ff0000" stroke="#ff0000" stroke-width="0.25" font-size="12.5" text-anchor="end">32.0</text>
<rect x="36" y="78" width="4" height="1" fill="#808080"/>
<text transform="translate(34.5 82.5) scale(0.88 1)" fill="#ff0000" stroke="#ff0000" stroke-width="0.25" font-size="12.5" text-anchor="end">34.0</text>
<rect x="36" y="612" width="8" height="1" fill="#808080"/>
<text transform="translate(20 51) scale(0.88 1)" fill="#ff0000" stroke="#ff0000" stroke-width="0.25" font-size="12.5">°C</text>
<rect x="36" y="78" width="8" height="1" fill="#808080"/>
<rect x="77" y="62" width="1" height="551" fill="#808080"/>
<rect x="73" y="612" width="4" height="1" fill="#808080"/>
<text transform="translate(71.7 616.5) scale(0.88 1)" fill="#00f000" stroke="#00f000" stroke-width="0.25" font-size="12.5" text-anchor="end">990</text>
<rect x="73" y="543" width="4" height="1" fill="#808080"/>
<text transform="translate(71.7 547.5) scale(0.88 1)" fill="#00f000" stroke="#00f000" stroke-width="0.25" font-size="12.5" text-anchor="end">995</text>
<rect x="73" y="474" width="4" height="1" fill="#808080"/>
<text transform="translate(71.7 478.5) scale(0.88 1)" fill="#00f000" stroke="#00f000" stroke-width="0.25" font-size="12.5" text-anchor="end">1000</text>
<rect x="73" y="406" width="4" height="1" fill="#808080"/>
<text transform="translate(71.7 410.5) scale(0.88 1)" fill="#00f000" stroke="#00f000" stroke-width="0.25" font-size="12.5" text-anchor="end">1005</text>
<rect x="73" y="337" width="4" height="1" fill="#808080"/>
<text transform="translate(71.7 341.5) scale(0.88 1)" fill="#00f000" stroke="#00f000" stroke-width="0.25" font-size="12.5" text-anchor="end">1010</text>
<rect x="73" y="268" width="4" height="1" fill="#808080"/>
<text transform="translate(71.7 272.5) scale(0.88 1)" fill="#00f000" stroke="#00f000" stroke-width="0.25" font-size="12.5" text-anchor="end">1015</text>
<rect x="73" y="200" width="4" height="1" fill="#808080"/>
<text transform="translate(71.7 204.5) scale(0.88 1)" fill="#00f000" stroke="#00f000" stroke-width="0.25" font-size="12.5" text-anchor="end">1020</text>
<rect x="73" y="131" width="4" height="1" fill="#808080"/>
<text transform="translate(71.7 135.5) scale(0.88 1)" fill="#00f000" stroke="#00f000" stroke-width="0.25" font-size="12.5" text-anchor="end">1025</text>
<rect x="73" y="62" width="4" height="1" fill="#808080"/>
<text transform="translate(71.7 66.5) scale(0.88 1)" fill="#00f000" stroke="#00f000" stroke-width="0.25" font-size="12.5" text-anchor="end">1030</text>
<rect x="73" y="62" width="8" height="1" fill="#808080"/>
<rect x="73" y="612" width="8" height="1" fill="#808080"/>
<text transform="translate(48.5 51) scale(0.88 1)" fill="#00f000" stroke="#00f000" stroke-width="0.25" font-size="12.5">hPa</text>
<rect x="114" y="62" width="1" height="551" fill="#808080"/>
<rect x="110" y="612" width="4" height="1" fill="#808080"/>
<text transform="translate(109 616.5) scale(0.88 1)" fill="#000000" stroke="#000000" stroke-width="0.25" font-size="12.5" text-anchor="end">0.0</text>
<rect x="110" y="557" width="4" height="1" fill="#808080"/>
<text transform="translate(109 561.5) scale(0.88 1)" fill="#000000" stroke="#000000" stroke-width="0.25" font-size="12.5" text-anchor="end">5.0</text>
<rect x="110" y="502" width="4" height="1" fill="#808080"/>
<text transform="translate(109 506.5) scale(0.88 1)" fill="#000000" stroke="#000000" stroke-width="0.25" font-size="12.5" text-anchor="end">10.0</text>
<rect x="110" y="447" width="4" height="1" fill="#808080"/>
<text transform="translate(109 451.5) scale(0.88 1)" fill="#000000" stroke="#000000" stroke-width="0.25" font-size="12.5" text-anchor="end">15.0</text>
<rect x="110" y="392" width="4" height="1" fill="#808080"/>
<text transform="translate(109 396.5) scale(0.88 1)" fill="#000000" stroke="#000000" stroke-width="0.25" font-size="12.5" text-anchor="end">20.0</text>
<rect x="110" y="337" width="4" height="1" fill="#808080"/>
<text transform="translate(109 341.5) scale(0.88 1)" fill="#000000" stroke="#000000" stroke-width="0.25" font-size="12.5" text-anchor="end">25.0</text>
<rect x="110" y="282" width="4" height="1" fill="#808080"/>
<text transform="translate(109 286.5) scale(0.88 1)" fill="#000000" stroke="#000000" stroke-width="0.25" font-size="12.5" text-anchor="end">30.0</text>
<rect x="110" y="227" width="4" height="1" fill="#808080"/>
<text transform="translate(109 231.5) scale(0.88 1)" fill="#000000" stroke="#000000" stroke-width="0.25" font-size="12.5" text-anchor="end">35.0</text>
<rect x="110" y="172" width="4" height="1" fill="#808080"/>
<text transform="translate(109 176.5) scale(0.88 1)" fill="#000000" stroke="#000000" stroke-width="0.25" font-size="12.5" text-anchor="end">40.0</text>
<rect x="110" y="117" width="4" height="1" fill="#808080"/>
<text transform="translate(109 121.5) scale(0.88 1)" fill="#000000" stroke="#000000" stroke-width="0.25" font-size="12.5" text-anchor="end">45.0</text>
<rect x="110" y="62" width="4" height="1" fill="#808080"/>
<text transform="translate(109 66.5) scale(0.88 1)" fill="#000000" stroke="#000000" stroke-width="0.25" font-size="12.5" text-anchor="end">50.0</text>
<rect x="110" y="62" width="8" height="1" fill="#808080"/>
<rect x="110" y="612" width="8" height="1" fill="#808080"/>
<text transform="translate(79.5 51) scale(0.88 1)" fill="#000000" stroke="#000000" stroke-width="0.25" font-size="12.5">km/h</text>
<rect x="151" y="62" width="1" height="551" fill="#808080"/>
<rect x="147" y="612" width="4" height="1" fill="#808080"/>
<text transform="translate(146 616.5) scale(0.88 1)" fill="#ffff00" stroke="#ffff00" stroke-width="0.25" font-size="12.5" text-anchor="end">0</text>
<rect x="147" y="557" width="4" height="1" fill="#808080"/>
<text transform="translate(146 561.5) scale(0.88 1)" fill="#ffff00" stroke="#ffff00" stroke-width="0.25" font-size="12.5" text-anchor="end">10</text>
<rect x="147" y="502" width="4" height="1" fill="#808080"/>
<text transform="translate(146 506.5) scale(0.88 1)" fill="#ffff00" stroke="#ffff00" stroke-width="0.25" font-size="12.5" text-anchor="end">20</text>
<rect x="147" y="447" width="4" height="1" fill="#808080"/>
<text transform="translate(146 451.5) scale(0.88 1)" fill="#ffff00" stroke="#ffff00" stroke-width="0.25" font-size="12.5" text-anchor="end">30</text>
<rect x="147" y="392" width="4" height="1" fill="#808080"/>
<text transform="translate(146 396.5) scale(0.88 1)" fill="#ffff00" stroke="#ffff00" stroke-width="0.25" font-size="12.5" text-anchor="end">40</text>
<rect x="147" y="337" width="4" height="1" fill="#808080"/>
<text transform="translate(146 341.5) scale(0.88 1)" fill="#ffff00" stroke="#ffff00" stroke-width="0.25" font-size="12.5" text-anchor="end">50</text>
<rect x="147" y="282" width="4" height="1" fill="#808080"/>
<text transform="translate(146 286.5) scale(0.88 1)" fill="#ffff00" stroke="#ffff00" stroke-width="0.25" font-size="12.5" text-anchor="end">60</text>
<rect x="147" y="227" width="4" height="1" fill="#808080"/>
<text transform="translate(146 231.5) scale(0.88 1)" fill="#ffff00" stroke="#ffff00" stroke-width="0.25" font-size="12.5" text-anchor="end">70</text>
<rect x="147" y="172" width="4" height="1" fill="#808080"/>
<text transform="translate(146 176.5) scale(0.88 1)" fill="#ffff00" stroke="#ffff00" stroke-width="0.25" font-size="12.5" text-anchor="end">80</text>
<rect x="147" y="117" width="4" height="1" fill="#808080"/>
<text transform="translate(146 121.5) scale(0.88 1)" fill="#ffff00" stroke="#ffff00" stroke-width="0.25" font-size="12.5" text-anchor="end">90</text>
<rect x="147" y="62" width="4" height="1" fill="#808080"/>
<text transform="translate(146 66.5) scale(0.88 1)" fill="#ffff00" stroke="#ffff00" stroke-width="0.25" font-size="12.5" text-anchor="end">100</text>
<rect x="147" y="62" width="8" height="1" fill="#808080"/>
<rect x="147" y="612" width="8" height="1" fill="#808080"/>
<text transform="translate(125.5 51) scale(0.88 1)" fill="#ffff00" stroke="#ffff00" stroke-width="0.25" font-size="12.5">min</text>
<rect x="184" y="612" width="4" height="1" fill="#808080"/>
<text transform="translate(182.5 616.5) scale(0.88 1)" fill="#008000" stroke="#008000" stroke-width="0.25" font-size="12.5" text-anchor="end">0</text>
<rect x="184" y="520" width="4" height="1" fill="#808080"/>
<text transform="translate(182.5 524.5) scale(0.88 1)" fill="#008000" stroke="#008000" stroke-width="0.25" font-size="12.5" text-anchor="end">100</text>
<rect x="184" y="429" width="4" height="1" fill="#808080"/>
<text transform="translate(182.5 433.5) scale(0.88 1)" fill="#008000" stroke="#008000" stroke-width="0.25" font-size="12.5" text-anchor="end">200</text>
<rect x="184" y="337" width="4" height="1" fill="#808080"/>
<text transform="translate(182.5 341.5) scale(0.88 1)" fill="#008000" stroke="#008000" stroke-width="0.25" font-size="12.5" text-anchor="end">300</text>
<rect x="184" y="245" width="4" height="1" fill="#808080"/>
<text transform="translate(182.5 249.5) scale(0.88 1)" fill="#008000" stroke="#008000" stroke-width="0.25" font-size="12.5" text-anchor="end">400</text>
<rect x="184" y="154" width="4" height="1" fill="#808080"/>
<text transform="translate(182.5 158.5) scale(0.88 1)" fill="#008000" stroke="#008000" stroke-width="0.25" font-size="12.5" text-anchor="end">500</text>
<rect x="184" y="62" width="4" height="1" fill="#808080"/>
<text transform="translate(182.5 66.5) scale(0.88 1)" fill="#008000" stroke="#008000" stroke-width="0.25" font-size="12.5" text-anchor="end">600</text>
<text transform="translate(151.5 51) scale(0.88 1)" fill="#008000" stroke="#008000" stroke-width="0.25" font-size="12.5">W/m²</text>
<rect x="1119" y="612" width="4" height="1" fill="#808080"/>
<text transform="translate(1124.5 616.5) scale(0.88 1)" fill="#0000ff" stroke="#0000ff" stroke-width="0.25" font-size="12.5">0</text>
<rect x="1119" y="584" width="4" height="1" fill="#808080"/>
<text transform="translate(1124.5 588.5) scale(0.88 1)" fill="#0000ff" stroke="#0000ff" stroke-width="0.25" font-size="12.5">5</text>
<rect x="1119" y="557" width="4" height="1" fill="#808080"/>
<text transform="translate(1124.5 561.5) scale(0.88 1)" fill="#0000ff" stroke="#0000ff" stroke-width="0.25" font-size="12.5">10</text>
<rect x="1119" y="530" width="4" height="1" fill="#808080"/>
<text transform="translate(1124.5 534.5) scale(0.88 1)" fill="#0000ff" stroke="#0000ff" stroke-width="0.25" font-size="12.5">15</text>
<rect x="1119" y="502" width="4" height="1" fill="#808080"/>
<text transform="translate(1124.5 506.5) scale(0.88 1)" fill="#0000ff" stroke="#0000ff" stroke-width="0.25" font-size="12.5">20</text>
<rect x="1119" y="474" width="4" height="1" fill="#808080"/>
<text transform="translate(1124.5 478.5) scale(0.88 1)" fill="#0000ff" stroke="#0000ff" stroke-width="0.25" font-size="12.5">25</text>
<rect x="1119" y="447" width="4" height="1" fill="#808080"/>
<text transform="translate(1124.5 451.5) scale(0.88 1)" fill="#0000ff" stroke="#0000ff" stroke-width="0.25" font-size="12.5">30</text>
<rect x="1119" y="420" width="4" height="1" fill="#808080"/>
<text transform="translate(1124.5 424.5) scale(0.88 1)" fill="#0000ff" stroke="#0000ff" stroke-width="0.25" font-size="12.5">35</text>
<rect x="1119" y="392" width="4" height="1" fill="#808080"/>
<text transform="translate(1124.5 396.5) scale(0.88 1)" fill="#0000ff" stroke="#0000ff" stroke-width="0.25" font-size="12.5">40</text>
<rect x="1119" y="364" width="4" height="1" fill="#808080"/>
<text transform="translate(1124.5 368.5) scale(0.88 1)" fill="#0000ff" stroke="#0000ff" stroke-width="0.25" font-size="12.5">45</text>
<rect x="1119" y="337" width="4" height="1" fill="#808080"/>
<text transform="translate(1124.5 341.5) scale(0.88 1)" fill="#0000ff" stroke="#0000ff" stroke-width="0.25" font-size="12.5">50</text>
<rect x="1119" y="310" width="4" height="1" fill="#808080"/>
<text transform="translate(1124.5 314.5) scale(0.88 1)" fill="#0000ff" stroke="#0000ff" stroke-width="0.25" font-size="12.5">55</text>
<rect x="1119" y="282" width="4" height="1" fill="#808080"/>
<text transform="translate(1124.5 286.5) scale(0.88 1)" fill="#0000ff" stroke="#0000ff" stroke-width="0.25" font-size="12.5">60</text>
<rect x="1119" y="254" width="4" height="1" fill="#808080"/>
<text transform="translate(1124.5 258.5) scale(0.88 1)" fill="#0000ff" stroke="#0000ff" stroke-width="0.25" font-size="12.5">65</text>
<rect x="1119" y="227" width="4" height="1" fill="#808080"/>
<text transform="translate(1124.5 231.5) scale(0.88 1)" fill="#0000ff" stroke="#0000ff" stroke-width="0.25" font-size="12.5">70</text>
<rect x="1119" y="200" width="4" height="1" fill="#808080"/>
<text transform="translate(1124.5 204.5) scale(0.88 1)" fill="#0000ff" stroke="#0000ff" stroke-width="0.25" font-size="12.5">75</text>
<rect x="1119" y="172" width="4" height="1" fill="#808080"/>
<text transform="translate(1124.5 176.5) scale(0.88 1)" fill="#0000ff" stroke="#0000ff" stroke-width="0.25" font-size="12.5">80</text>
<rect x="1119" y="144" width="4" height="1" fill="#808080"/>
<text transform="translate(1124.5 148.5) scale(0.88 1)" fill="#0000ff" stroke="#0000ff" stroke-width="0.25" font-size="12.5">85</text>
<rect x="1119" y="117" width="4" height="1" fill="#808080"/>
<text transform="translate(1124.5 121.5) scale(0.88 1)" fill="#0000ff" stroke="#0000ff" stroke-width="0.25" font-size="12.5">90</text>
<rect x="1119" y="90" width="4" height="1" fill="#808080"/>
<text transform="translate(1124.5 94.5) scale(0.88 1)" fill="#0000ff" stroke="#0000ff" stroke-width="0.25" font-size="12.5">95</text>
<rect x="1119" y="62" width="4" height="1" fill="#808080"/>
<text transform="translate(1124.5 66.5) scale(0.88 1)" fill="#0000ff" stroke="#0000ff" stroke-width="0.25" font-size="12.5">100</text>
<text transform="translate(1119.5 51) scale(0.88 1)" fill="#0000ff" stroke="#0000ff" stroke-width="0.25" font-size="12.5">%</text>
<rect x="1155" y="62" width="1" height="551" fill="#808080"/>
<rect x="1156" y="612" width="4" height="1" fill="#808080"/>
<text transform="translate(1161.5 616.5) scale(0.88 1)" fill="#00ffff" stroke="#00ffff" stroke-width="0.25" font-size="12.5">0.00</text>
<rect x="1156" y="566" width="4" height="1" fill="#808080"/>
<text transform="translate(1161.5 570.5) scale(0.88 1)" fill="#00ffff" stroke="#00ffff" stroke-width="0.25" font-size="12.5">0.50</text>
<rect x="1156" y="520" width="4" height="1" fill="#808080"/>
<text transform="translate(1161.5 524.5) scale(0.88 1)" fill="#00ffff" stroke="#00ffff" stroke-width="0.25" font-size="12.5">1.00</text>
<rect x="1156" y="474" width="4" height="1" fill="#808080"/>
<text transform="translate(1161.5 478.5) scale(0.88 1)" fill="#00ffff" stroke="#00ffff" stroke-width="0.25" font-size="12.5">1.50</text>
<rect x="1156" y="429" width="4" height="1" fill="#808080"/>
<text transform="translate(1161.5 433.5) scale(0.88 1)" fill="#00ffff" stroke="#00ffff" stroke-width="0.25" font-size="12.5">2.00</text>
<rect x="1156" y="383" width="4" height="1" fill="#808080"/>
<text transform="translate(1161.5 387.5) scale(0.88 1)" fill="#00ffff" stroke="#00ffff" stroke-width="0.25" font-size="12.5">2.50</text>
<rect x="1156" y="337" width="4" height="1" fill="#808080"/>
<text transform="translate(1161.5 341.5) scale(0.88 1)" fill="#00ffff" stroke="#00ffff" stroke-width="0.25" font-size="12.5">3.00</text>
<rect x="1156" y="291" width="4" height="1" fill="#808080"/>
<text transform="translate(1161.5 295.5) scale(0.88 1)" fill="#00ffff" stroke="#00ffff" stroke-width="0.25" font-size="12.5">3.50</text>
<rect x="1156" y="245" width="4" height="1" fill="#808080"/>
<text transform="translate(1161.5 249.5) scale(0.88 1)" fill="#00ffff" stroke="#00ffff" stroke-width="0.25" font-size="12.5">4.00</text>
<rect x="1156" y="200" width="4" height="1" fill="#808080"/>
<text transform="translate(1161.5 204.5) scale(0.88 1)" fill="#00ffff" stroke="#00ffff" stroke-width="0.25" font-size="12.5">4.50</text>
<rect x="1156" y="154" width="4" height="1" fill="#808080"/>
<text transform="translate(1161.5 158.5) scale(0.88 1)" fill="#00ffff" stroke="#00ffff" stroke-width="0.25" font-size="12.5">5.00</text>
<rect x="1156" y="108" width="4" height="1" fill="#808080"/>
<text transform="translate(1161.5 112.5) scale(0.88 1)" fill="#00ffff" stroke="#00ffff" stroke-width="0.25" font-size="12.5">5.50</text>
<rect x="1156" y="62" width="4" height="1" fill="#808080"/>
<text transform="translate(1161.5 66.5) scale(0.88 1)" fill="#00ffff" stroke="#00ffff" stroke-width="0.25" font-size="12.5">6.00</text>
<rect x="1151" y="62" width="9" height="1" fill="#808080"/>
<rect x="1151" y="612" width="9" height="1" fill="#808080"/>
<text transform="translate(1155 51) scale(0.88 1)" fill="#00ffff" stroke="#00ffff" stroke-width="0.25" font-size="12.5">l/m²</text>
<rect x="1192" y="62" width="1" height="551" fill="#808080"/>
<rect x="1193" y="612" width="4" height="1" fill="#808080"/>
<text transform="translate(1198.5 616.5) scale(0.88 1)" fill="#707070" stroke="#707070" stroke-width="0.25" font-size="12.5">0</text>
<rect x="1193" y="566" width="4" height="1" fill="#808080"/>
<text transform="translate(1198.5 570.5) scale(0.88 1)" fill="#707070" stroke="#707070" stroke-width="0.25" font-size="12.5">30</text>
<rect x="1193" y="520" width="4" height="1" fill="#808080"/>
<text transform="translate(1198.5 524.5) scale(0.88 1)" fill="#707070" stroke="#707070" stroke-width="0.25" font-size="12.5">60</text>
<rect x="1193" y="474" width="4" height="1" fill="#808080"/>
<text transform="translate(1198.5 478.5) scale(0.88 1)" fill="#707070" stroke="#707070" stroke-width="0.25" font-size="12.5">90</text>
<rect x="1193" y="429" width="4" height="1" fill="#808080"/>
<text transform="translate(1198.5 433.5) scale(0.88 1)" fill="#707070" stroke="#707070" stroke-width="0.25" font-size="12.5">120</text>
<rect x="1193" y="383" width="4" height="1" fill="#808080"/>
<text transform="translate(1198.5 387.5) scale(0.88 1)" fill="#707070" stroke="#707070" stroke-width="0.25" font-size="12.5">150</text>
<rect x="1193" y="337" width="4" height="1" fill="#808080"/>
<text transform="translate(1198.5 341.5) scale(0.88 1)" fill="#707070" stroke="#707070" stroke-width="0.25" font-size="12.5">180</text>
<rect x="1193" y="291" width="4" height="1" fill="#808080"/>
<text transform="translate(1198.5 295.5) scale(0.88 1)" fill="#707070" stroke="#707070" stroke-width="0.25" font-size="12.5">210</text>
<rect x="1193" y="245" width="4" height="1" fill="#808080"/>
<text transform="translate(1198.5 249.5) scale(0.88 1)" fill="#707070" stroke="#707070" stroke-width="0.25" font-size="12.5">240</text>
<rect x="1193" y="200" width="4" height="1" fill="#808080"/>
<text transform="translate(1198.5 204.5) scale(0.88 1)" fill="#707070" stroke="#707070" stroke-width="0.25" font-size="12.5">270</text>
<rect x="1193" y="154" width="4" height="1" fill="#808080"/>
<text transform="translate(1198.5 158.5) scale(0.88 1)" fill="#707070" stroke="#707070" stroke-width="0.25" font-size="12.5">300</text>
<rect x="1193" y="108" width="4" height="1" fill="#808080"/>
<text transform="translate(1198.5 112.5) scale(0.88 1)" fill="#707070" stroke="#707070" stroke-width="0.25" font-size="12.5">330</text>
<rect x="1193" y="62" width="4" height="1" fill="#808080"/>
<text transform="translate(1198.5 66.5) scale(0.88 1)" fill="#707070" stroke="#707070" stroke-width="0.25" font-size="12.5">360</text>
<rect x="1188" y="62" width="9" height="1" fill="#808080"/>
<rect x="1188" y="612" width="9" height="1" fill="#808080"/>
<text transform="translate(1193 51) scale(0.88 1)" fill="#707070" stroke="#707070" stroke-width="0.25" font-size="12.5">°</text>
<text transform="translate(1218.5 66.5) scale(0.88 1)" fill="#707070" stroke="#707070" stroke-width="0.25" font-size="12.5">N</text>
<text transform="translate(1218.5 204.5) scale(0.88 1)" fill="#707070" stroke="#707070" stroke-width="0.25" font-size="12.5">W</text>
<text transform="translate(1218.5 341.5) scale(0.88 1)" fill="#707070" stroke="#707070" stroke-width="0.25" font-size="12.5">S</text>
<text transform="translate(1216.5 478.5) scale(0.88 1)" fill="#707070" stroke="#707070" stroke-width="0.25" font-size="12.5">O</text>
<text transform="translate(1217 616.5) scale(0.88 1)" fill="#707070" stroke="#707070" stroke-width="0.25" font-size="12.5">N</text>
<rect x="1229" y="62" width="1" height="551" fill="#808080"/>
<rect x="1230" y="612" width="4" height="1" fill="#808080"/>
<text transform="translate(1235.5 616.5) scale(0.88 1)" fill="#40a0ff" stroke="#40a0ff" stroke-width="0.25" font-size="12.5">0</text>
<rect x="1230" y="557" width="4" height="1" fill="#808080"/>
<text transform="translate(1235.5 561.5) scale(0.88 1)" fill="#40a0ff" stroke="#40a0ff" stroke-width="0.25" font-size="12.5">10</text>
<rect x="1230" y="502" width="4" height="1" fill="#808080"/>
<text transform="translate(1235.5 506.5) scale(0.88 1)" fill="#40a0ff" stroke="#40a0ff" stroke-width="0.25" font-size="12.5">20</text>
<rect x="1230" y="447" width="4" height="1" fill="#808080"/>
<text transform="translate(1235.5 451.5) scale(0.88 1)" fill="#40a0ff" stroke="#40a0ff" stroke-width="0.25" font-size="12.5">30</text>
<rect x="1230" y="392" width="4" height="1" fill="#808080"/>
<text transform="translate(1235.5 396.5) scale(0.88 1)" fill="#40a0ff" stroke="#40a0ff" stroke-width="0.25" font-size="12.5">40</text>
<rect x="1230" y="337" width="4" height="1" fill="#808080"/>
<text transform="translate(1235.5 341.5) scale(0.88 1)" fill="#40a0ff" stroke="#40a0ff" stroke-width="0.25" font-size="12.5">50</text>
<rect x="1230" y="282" width="4" height="1" fill="#808080"/>
<text transform="translate(1235.5 286.5) scale(0.88 1)" fill="#40a0ff" stroke="#40a0ff" stroke-width="0.25" font-size="12.5">60</text>
<rect x="1230" y="227" width="4" height="1" fill="#808080"/>
<text transform="translate(1235.5 231.5) scale(0.88 1)" fill="#40a0ff" stroke="#40a0ff" stroke-width="0.25" font-size="12.5">70</text>
<rect x="1230" y="172" width="4" height="1" fill="#808080"/>
<text transform="translate(1235.5 176.5) scale(0.88 1)" fill="#40a0ff" stroke="#40a0ff" stroke-width="0.25" font-size="12.5">80</text>
<rect x="1230" y="117" width="4" height="1" fill="#808080"/>
<text transform="translate(1235.5 121.5) scale(0.88 1)" fill="#40a0ff" stroke="#40a0ff" stroke-width="0.25" font-size="12.5">90</text>
<rect x="1230" y="62" width="4" height="1" fill="#808080"/>
<text transform="translate(1235.5 66.5) scale(0.88 1)" fill="#40a0ff" stroke="#40a0ff" stroke-width="0.25" font-size="12.5">100</text>
<rect x="1225" y="62" width="9" height="1" fill="#808080"/>
<rect x="1225" y="612" width="9" height="1" fill="#808080"/>
<text transform="translate(1230 51) scale(0.88 1)" fill="#40a0ff" stroke="#40a0ff" stroke-width="0.25" font-size="12.5">klux</text>
<text transform="translate(10.5 642) scale(0.88 1)" fill="#000" stroke="#000" stroke-width="0.25" font-size="12.5">16:40</text>
<path d="M40 641V639.5C40 636.5 42 635 44.5 635C47 635 49 636.5 49 639.5V641Z" fill="#ffff00"/>
<text transform="translate(348.7 642) scale(0.88 1)" fill="#000" stroke="#000" stroke-width="0.25" font-size="12.5">05:00</text>
<g stroke="#ffff90" stroke-width="1"><path d="M377 637.5H387M382 632.5V642.5M378.5 634L385.5 641M385.5 634L378.5 641"/></g>
<circle cx="382" cy="637.5" r="3.1" fill="#ffff00"/>
<text transform="translate(995.5 642) scale(0.88 1)" fill="#000" stroke="#000" stroke-width="0.25" font-size="12.5">21:41</text>
<rect x="1026.5" y="635.5" width="5" height="5" rx="1.2" fill="none" stroke="#ffff50" stroke-width="1"/>
<rect x="1" y="652" width="1270" height="72" fill="#e2f9d1"/>
<rect x="87" y="652" width="1" height="72" fill="#f4fff0"/>
<rect x="88" y="652" width="1" height="72" fill="#909090"/>
<rect x="204" y="652" width="1" height="72" fill="#f4fff0"/>
<rect x="205" y="652" width="1" height="72" fill="#909090"/>
<rect x="322" y="652" width="1" height="72" fill="#f4fff0"/>
<rect x="323" y="652" width="1" height="72" fill="#909090"/>
<rect x="440" y="652" width="1" height="72" fill="#f4fff0"/>
<rect x="441" y="652" width="1" height="72" fill="#909090"/>
<rect x="558" y="652" width="1" height="72" fill="#f4fff0"/>
<rect x="559" y="652" width="1" height="72" fill="#909090"/>
<rect x="676" y="652" width="1" height="72" fill="#f4fff0"/>
<rect x="677" y="652" width="1" height="72" fill="#909090"/>
<rect x="794" y="652" width="1" height="72" fill="#f4fff0"/>
<rect x="795" y="652" width="1" height="72" fill="#909090"/>
<rect x="912" y="652" width="1" height="72" fill="#f4fff0"/>
<rect x="913" y="652" width="1" height="72" fill="#909090"/>
<text transform="translate(8.5 669.5) scale(0.915 1)" fill="#000" font-size="12.5" font-weight="bold">Sensor</text>
<text transform="translate(8.5 685.5) scale(0.915 1)" fill="#000" font-size="12.5" font-weight="bold">MinWert</text>
<text transform="translate(8.5 701.5) scale(0.915 1)" fill="#000" font-size="12.5" font-weight="bold">MaxWert</text>
<text transform="translate(8.5 717.5) scale(0.915 1)" fill="#000" font-size="12.5" font-weight="bold">Durchschnitt</text>
<text transform="translate(94 669.5) scale(0.915 1)" fill="#000" font-size="12.5" font-weight="bold">Außen</text>
<text transform="translate(198.5 669.5) scale(0.915 1)" fill="#000" font-size="12.5" text-anchor="end" font-weight="bold">°C</text>
<text transform="translate(100.5 685.5) scale(0.88 1)" fill="#000" stroke="#000" stroke-width="0.25" font-size="12.5">05:00</text>
<text transform="translate(198.5 685.5) scale(0.88 1)" fill="#000" stroke="#000" stroke-width="0.25" font-size="12.5" text-anchor="end">15.9</text>
<text transform="translate(100.5 701.5) scale(0.88 1)" fill="#000" stroke="#000" stroke-width="0.25" font-size="12.5">19:15</text>
<text transform="translate(198.5 701.5) scale(0.88 1)" fill="#000" stroke="#000" stroke-width="0.25" font-size="12.5" text-anchor="end">28.6</text>
<text transform="translate(100 717.5) scale(0.88 1)" fill="#000" stroke="#000" stroke-width="0.25" font-size="12.5">(+ 4.90 )</text>
<text transform="translate(198.5 717.5) scale(0.88 1)" fill="#000" stroke="#000" stroke-width="0.25" font-size="12.5" text-anchor="end">23.08</text>
<text transform="translate(212.5 669.5) scale(0.915 1)" fill="#000" font-size="12.5" font-weight="bold">Feuchte</text>
<text transform="translate(317 669.5) scale(0.915 1)" fill="#000" font-size="12.5" text-anchor="end" font-weight="bold">%</text>
<text transform="translate(218.5 685.5) scale(0.88 1)" fill="#000" stroke="#000" stroke-width="0.25" font-size="12.5">16:15</text>
<text transform="translate(317 685.5) scale(0.88 1)" fill="#000" stroke="#000" stroke-width="0.25" font-size="12.5" text-anchor="end">27</text>
<text transform="translate(218.5 701.5) scale(0.88 1)" fill="#000" stroke="#000" stroke-width="0.25" font-size="12.5">04:30</text>
<text transform="translate(317 701.5) scale(0.88 1)" fill="#000" stroke="#000" stroke-width="0.25" font-size="12.5" text-anchor="end">66</text>
<text transform="translate(317 717.5) scale(0.88 1)" fill="#000" stroke="#000" stroke-width="0.25" font-size="12.5" text-anchor="end">46</text>
<text transform="translate(330.5 669.5) scale(0.915 1)" fill="#000" font-size="12.5" font-weight="bold">Luftdruck</text>
<text transform="translate(435 669.5) scale(0.915 1)" fill="#000" font-size="12.5" text-anchor="end" font-weight="bold">hPa</text>
<text transform="translate(336.5 685.5) scale(0.88 1)" fill="#000" stroke="#000" stroke-width="0.25" font-size="12.5">18:45</text>
<text transform="translate(435 685.5) scale(0.88 1)" fill="#000" stroke="#000" stroke-width="0.25" font-size="12.5" text-anchor="end">1017.4</text>
<text transform="translate(336.5 701.5) scale(0.88 1)" fill="#000" stroke="#000" stroke-width="0.25" font-size="12.5">23:15</text>
<text transform="translate(435 701.5) scale(0.88 1)" fill="#000" stroke="#000" stroke-width="0.25" font-size="12.5" text-anchor="end">1020.1</text>
<text transform="translate(332.5 717.5) scale(0.88 1)" fill="#000" stroke="#000" stroke-width="0.25" font-size="12.5">^1.3hPa/h</text>
<text transform="translate(435 717.5) scale(0.88 1)" fill="#000" stroke="#000" stroke-width="0.25" font-size="12.5" text-anchor="end">1019.2</text>
<text transform="translate(448.5 669.5) scale(0.915 1)" fill="#000" font-size="12.5" font-weight="bold">Wind</text>
<text transform="translate(552.5 669.5) scale(0.915 1)" fill="#000" font-size="12.5" text-anchor="end" font-weight="bold">km/h</text>
<text transform="translate(448.5 685.5) scale(0.88 1)" fill="#000" stroke="#000" stroke-width="0.25" font-size="12.5">Ø 10 min.</text>
<text transform="translate(552.5 685.5) scale(0.88 1)" fill="#000" stroke="#000" stroke-width="0.25" font-size="12.5" text-anchor="end">10.6</text>
<text transform="translate(455 701.5) scale(0.88 1)" fill="#000" stroke="#000" stroke-width="0.25" font-size="12.5">12:15</text>
<text transform="translate(552.5 701.5) scale(0.88 1)" fill="#000" stroke="#000" stroke-width="0.25" font-size="12.5" text-anchor="end">O-SO 38.4</text>
<text transform="translate(455 717.5) scale(0.88 1)" fill="#000" stroke="#000" stroke-width="0.25" font-size="12.5">380.9 km</text>
<text transform="translate(552.5 717.5) scale(0.88 1)" fill="#000" stroke="#000" stroke-width="0.25" font-size="12.5" text-anchor="end">15.9</text>
<text transform="translate(566.5 669.5) scale(0.915 1)" fill="#000" font-size="12.5" font-weight="bold">Richtung</text>
<text transform="translate(572.5 685.5) scale(0.88 1)" fill="#000" stroke="#000" stroke-width="0.25" font-size="12.5">04:30</text>
<text transform="translate(669.5 685.5) scale(0.88 1)" fill="#000" stroke="#000" stroke-width="0.25" font-size="12.5" text-anchor="end">NO</text>
<text transform="translate(572.5 701.5) scale(0.88 1)" fill="#000" stroke="#000" stroke-width="0.25" font-size="12.5">04:15</text>
<text transform="translate(669.5 701.5) scale(0.88 1)" fill="#000" stroke="#000" stroke-width="0.25" font-size="12.5" text-anchor="end">N-NW</text>
<text transform="translate(669.5 717.5) scale(0.88 1)" fill="#000" stroke="#000" stroke-width="0.25" font-size="12.5" text-anchor="end">O</text>
<text transform="translate(684.5 669.5) scale(0.88 1)" fill="#000" stroke="#000" stroke-width="0.25" font-size="12.5">Regen/1h</text>
<text transform="translate(788.5 669.5) scale(0.88 1)" fill="#000" stroke="#000" stroke-width="0.25" font-size="12.5" text-anchor="end">0.00l/m²</text>
<text transform="translate(684.5 685.5) scale(0.88 1)" fill="#000" stroke="#000" stroke-width="0.25" font-size="12.5">Regen/Tag</text>
<text transform="translate(788.5 685.5) scale(0.88 1)" fill="#000" stroke="#000" stroke-width="0.25" font-size="12.5" text-anchor="end">0.00l/m²</text>
<text transform="translate(684.5 701.5) scale(0.88 1)" fill="#000" stroke="#000" stroke-width="0.25" font-size="12.5">Neumond</text>
<text transform="translate(788.5 701.5) scale(0.88 1)" fill="#000" stroke="#000" stroke-width="0.25" font-size="12.5" text-anchor="end">02.07.19</text>
<text transform="translate(684.5 717.5) scale(0.88 1)" fill="#000" stroke="#000" stroke-width="0.25" font-size="12.5">Vollmond</text>
<text transform="translate(788.5 717.5) scale(0.88 1)" fill="#000" stroke="#000" stroke-width="0.25" font-size="12.5" text-anchor="end">16.07.19</text>
<text transform="translate(802.5 669.5) scale(0.88 1)" fill="#000" stroke="#000" stroke-width="0.25" font-size="12.5">Wolkenunterg</text>
<text transform="translate(906.5 669.5) scale(0.88 1)" fill="#000" stroke="#000" stroke-width="0.25" font-size="12.5" text-anchor="end">1859m</text>
<text transform="translate(802.5 685.5) scale(0.88 1)" fill="#000" stroke="#000" stroke-width="0.25" font-size="12.5">Sichtweite</text>
<text transform="translate(906.5 685.5) scale(0.88 1)" fill="#000" stroke="#000" stroke-width="0.25" font-size="12.5" text-anchor="end">6-10km</text>
<text transform="translate(802.5 701.5) scale(0.88 1)" fill="#000" stroke="#000" stroke-width="0.25" font-size="12.5">Schneefallgr</text>
<text transform="translate(906.5 701.5) scale(0.88 1)" fill="#000" stroke="#000" stroke-width="0.25" font-size="12.5" text-anchor="end">2600m</text>
<text transform="translate(802.5 717.5) scale(0.88 1)" fill="#000" stroke="#000" stroke-width="0.25" font-size="12.5">Schneehöhe</text>
<text transform="translate(906.5 717.5) scale(0.88 1)" fill="#000" stroke="#000" stroke-width="0.25" font-size="12.5" text-anchor="end">0cm</text>
<text transform="translate(921 669.5) scale(0.915 1)" fill="#000" font-size="12.5" font-weight="bold">Solar</text>
<text transform="translate(1021.5 669.5) scale(0.915 1)" fill="#000" font-size="12.5" text-anchor="end" font-weight="bold">W/m²</text>
<text transform="translate(921 685.5) scale(0.88 1)" fill="#000" stroke="#000" stroke-width="0.25" font-size="12.5">Elevation</text>
<text transform="translate(1021.5 685.5) scale(0.88 1)" fill="#000" stroke="#000" stroke-width="0.25" font-size="12.5" text-anchor="end">-11.946</text>
<text transform="translate(926.5 701.5) scale(0.88 1)" fill="#000" stroke="#000" stroke-width="0.25" font-size="12.5">13:45</text>
<text transform="translate(1021.5 701.5) scale(0.88 1)" fill="#000" stroke="#000" stroke-width="0.25" font-size="12.5" text-anchor="end">599</text>
<text transform="translate(921 717.5) scale(0.88 1)" fill="#000" stroke="#000" stroke-width="0.25" font-size="12.5">12:12 h</text>
<text transform="translate(1021.5 717.5) scale(0.88 1)" fill="#000" stroke="#000" stroke-width="0.25" font-size="12.5" text-anchor="end">321</text>
<defs><linearGradient id="edge" gradientUnits="userSpaceOnUse" x1="0" y1="0" x2="0" y2="523">
<stop offset="0.0000" stop-color="#160c10"/>
<stop offset="0.3709" stop-color="#1a0e14"/>
<stop offset="0.3748" stop-color="#dcdce4"/>
<stop offset="0.4034" stop-color="#d0d0dc"/>
<stop offset="0.4092" stop-color="#7080a0"/>
<stop offset="0.4398" stop-color="#8898b8"/>
<stop offset="0.4780" stop-color="#a8c0d8"/>
<stop offset="0.5124" stop-color="#90a8c0"/>
<stop offset="0.5201" stop-color="#302428"/>
<stop offset="0.5736" stop-color="#201818"/>
<stop offset="0.7419" stop-color="#181418"/>
<stop offset="0.7495" stop-color="#c0b8c8"/>
<stop offset="0.8413" stop-color="#a8a8c0"/>
<stop offset="0.8987" stop-color="#687890"/>
<stop offset="0.9407" stop-color="#203038"/>
<stop offset="1.0000" stop-color="#0c1418"/>
</linearGradient></defs>
<rect x="1271.5" y="0" width="3" height="523" fill="url(#edge)"/>
<rect x="1271.5" y="554" width="3" height="170" fill="#2c2c2c"/>
<rect x="1271.5" y="554" width="1" height="170" fill="#0c0c0c"/>
<rect x="1271.5" y="582" width="3" height="2" fill="#0c0c0c"/>
<rect x="1271.5" y="627" width="3" height="2" fill="#0c0c0c"/>
<rect x="1271.5" y="668" width="3" height="2" fill="#0c0c0c"/>
<rect x="1271.5" y="706" width="3" height="2" fill="#0c0c0c"/>
</svg></body></html>
